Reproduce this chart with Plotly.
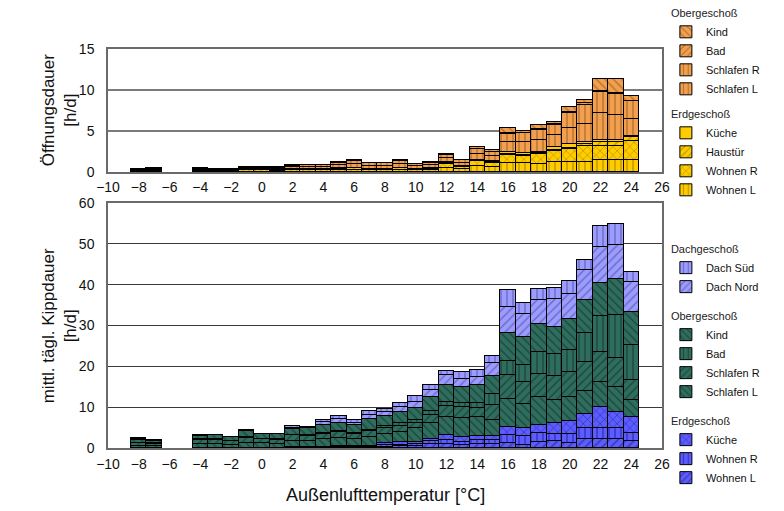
import plotly.graph_objects as go

temps = [-8, -7, -4, -3, -2, -1, 0, 1, 2, 3, 4, 5, 6, 7, 8, 9, 10, 11, 12, 13, 14, 15, 16, 17, 18, 19, 20, 21, 22, 23, 24]

# ---- Top panel: Öffnungsdauer [h/d] ----
eg_wohnen_l = [0.15, 0.1, 0.15, 0.15, 0.15, 0.2, 0.2, 0.15, 0.2, 0.2, 0.2, 0.25, 0.25, 0.2, 0.2, 0.25, 0.2, 0.25, 0.5, 0.35, 0.7, 0.6, 1.1, 1.1, 1.0, 1.2, 1.2, 1.2, 1.4, 1.4, 1.5]
eg_wohnen_r = [0.1, 0.1, 0.1, 0.1, 0.1, 0.1, 0.1, 0.1, 0.15, 0.15, 0.15, 0.15, 0.2, 0.15, 0.15, 0.2, 0.15, 0.15, 0.5, 0.3, 0.6, 0.5, 1.0, 0.9, 1.2, 1.4, 1.6, 2.0, 1.8, 1.8, 2.3]
eg_haustuer = [0, 0.05, 0.05, 0, 0, 0.05, 0.05, 0, 0, 0, 0, 0, 0, 0, 0, 0, 0, 0, 0.05, 0, 0.05, 0.05, 0.1, 0.1, 0.1, 0.1, 0.1, 0.15, 0.4, 0.4, 0.4]
eg_kueche = [0, 0.05, 0.05, 0, 0, 0.05, 0.05, 0.05, 0.05, 0.05, 0.05, 0.05, 0.05, 0.05, 0.05, 0.05, 0.05, 0.05, 0.15, 0.1, 0.15, 0.15, 0.2, 0.2, 0.15, 0.35, 0.5, 0.3, 0.3, 0.3, 0.2]
og_schlafen_l = [0.05, 0.1, 0.05, 0.05, 0.05, 0.1, 0.1, 0.15, 0.2, 0.25, 0.25, 0.35, 0.45, 0.35, 0.35, 0.45, 0.3, 0.35, 0.45, 0.35, 0.7, 0.6, 1.2, 1.3, 1.4, 1.4, 2.0, 2.2, 3.3, 3.0, 2.0]
og_schlafen_r = [0, 0.05, 0.05, 0.05, 0.05, 0.1, 0.1, 0.15, 0.15, 0.2, 0.2, 0.3, 0.4, 0.3, 0.3, 0.4, 0.25, 0.3, 0.4, 0.3, 0.6, 0.5, 1.0, 1.1, 1.3, 1.3, 1.8, 2.3, 2.5, 2.6, 2.2]
og_bad = [0, 0, 0, 0, 0, 0, 0, 0, 0, 0, 0, 0, 0, 0, 0, 0, 0, 0, 0.05, 0, 0.05, 0.05, 0.1, 0.05, 0.1, 0.1, 0.15, 0.2, 0.2, 0.1, 0.1]
og_kind = [0, 0, 0, 0, 0, 0, 0, 0, 0.05, 0.05, 0.05, 0.1, 0.15, 0.05, 0.05, 0.15, 0.05, 0.1, 0.1, 0.1, 0.15, 0.25, 0.6, 0.25, 0.45, 0.3, 0.6, 0.45, 1.4, 1.7, 0.6]

# ---- Bottom panel: mittl. tägl. Kippdauer [h/d] ----
k_eg_wohnen_l = [0, 0, 0.1, 0, 0, 0, 0, 0, 0.2, 0.1, 0.2, 0.2, 0.2, 0.2, 0.3, 0.4, 0.4, 0.9, 0.9, 0.7, 0.9, 0.9, 1.1, 0.8, 1.4, 1.6, 1.1, 2.1, 2.1, 2.1, 1.7]
k_eg_wohnen_r = [0, 0, 0, 0, 0, 0, 0, 0, 0.1, 0.1, 0.1, 0.2, 0.2, 0.2, 0.4, 0.4, 0.5, 0.9, 1.0, 0.8, 1.0, 1.0, 2.0, 2.1, 2.3, 1.8, 2.4, 2.7, 2.8, 2.8, 2.0]
k_eg_kueche = [0, 0, 0, 0, 0, 0, 0, 0, 0, 0, 0, 0, 0, 0, 0.6, 0.7, 0.6, 0.3, 1.2, 1.2, 1.1, 1.1, 2.0, 2.0, 1.9, 2.6, 3.1, 3.5, 5.1, 3.8, 3.9]
k_og_schlafen_l = [0.6, 0.5, 0.9, 1.0, 0.8, 1.2, 1.1, 1.0, 1.5, 1.6, 1.8, 2.0, 1.8, 2.2, 2.2, 2.4, 3.3, 3.9, 4.5, 4.7, 4.6, 3.8, 7.0, 5.8, 6.8, 5.8, 5.9, 5.7, 6.2, 6.3, 4.1]
k_og_schlafen_r = [0.5, 0.4, 0.9, 0.9, 0.8, 1.2, 1.0, 1.0, 1.3, 1.2, 1.4, 1.5, 1.2, 1.5, 1.5, 1.5, 1.2, 2.0, 2.6, 2.6, 2.2, 3.8, 5.7, 5.5, 5.7, 5.8, 6.0, 7.1, 7.3, 7.1, 4.9]
k_og_bad = [0.2, 0.2, 0.2, 0.2, 0.2, 0.2, 0.2, 0.2, 0.2, 0.2, 0.2, 0.3, 0.2, 0.4, 0.4, 0.6, 0.8, 1.1, 1.1, 1.1, 1.1, 2.7, 3.5, 4.1, 5.4, 5.3, 5.4, 7.1, 8.8, 10.4, 8.6]
k_og_kind = [0.6, 0.5, 0.9, 1.0, 0.9, 1.6, 1.1, 1.2, 1.4, 1.6, 2.0, 2.0, 2.0, 2.5, 2.4, 2.8, 3.0, 3.4, 4.1, 3.9, 4.5, 4.3, 6.9, 6.9, 6.8, 6.8, 7.6, 8.0, 8.1, 9.0, 8.1]
k_dach_nord = [0.2, 0.2, 0.1, 0.1, 0, 0.1, 0.1, 0, 0.3, 0.1, 0.6, 0.8, 0.6, 1.0, 1.0, 1.2, 1.5, 1.8, 2.4, 2.0, 2.0, 3.3, 6.4, 5.7, 5.9, 6.7, 6.3, 7.4, 8.9, 8.3, 7.4]
k_dach_sued = [0.4, 0.2, 0.2, 0, 0, 0, 0, 0.1, 0.3, 0.2, 0.5, 0.8, 0.6, 1.0, 0.8, 1.0, 1.4, 1.1, 1.0, 1.5, 1.8, 1.6, 4.1, 2.6, 2.8, 2.9, 3.1, 2.4, 5.0, 5.0, 2.5]

ORANGE, ORANGE_FG = "#F2A04F", "rgba(90,45,0,0.75)"
YELLOW, YELLOW_FG = "#FFCC00", "rgba(90,70,0,0.75)"
TEAL, TEAL_FG = "#2F6E5E", "rgba(0,20,15,0.8)"
BLUE, BLUE_FG = "#5C5CFF", "rgba(0,0,90,0.8)"
LBLUE, LBLUE_FG = "#9C9CFF", "rgba(30,30,110,0.75)"

FONT = "Liberation Sans, Arial, sans-serif"

fig = go.Figure()


def add(y, name, color, fg, shape, axis, legend, group, gtitle, rank):
    xa, ya = axis
    pat = dict(shape=shape, bgcolor=color, fgcolor=fg, size=6, solidity=0.25)
    fig.add_trace(go.Bar(
        x=temps, y=y, name=name, width=1.0,
        marker=dict(color=color, line=dict(color="black", width=1), pattern=pat),
        xaxis=xa, yaxis=ya, legend=legend, legendgroup=group,
        legendgrouptitle=dict(text=gtitle, font=dict(size=11, family=FONT, color="#222")),
        legendrank=rank, hoverinfo="x+y+name",
    ))


top = ("x", "y")
bot = ("x2", "y2")
# top panel, stacked bottom->top
add(eg_wohnen_l, "Wohnen L", YELLOW, YELLOW_FG, "|", top, "legend", "tEG", "Erdgeschoß", 8)
add(eg_wohnen_r, "Wohnen R", YELLOW, YELLOW_FG, "x", top, "legend", "tEG", "Erdgeschoß", 7)
add(eg_haustuer, "Haustür", YELLOW, YELLOW_FG, "/", top, "legend", "tEG", "Erdgeschoß", 6)
add(eg_kueche, "Küche", YELLOW, YELLOW_FG, "", top, "legend", "tEG", "Erdgeschoß", 5)
add(og_schlafen_l, "Schlafen L", ORANGE, ORANGE_FG, "|", top, "legend", "tOG", "Obergeschoß", 4)
add(og_schlafen_r, "Schlafen R", ORANGE, ORANGE_FG, "|", top, "legend", "tOG", "Obergeschoß", 3)
add(og_bad, "Bad", ORANGE, ORANGE_FG, "/", top, "legend", "tOG", "Obergeschoß", 2)
add(og_kind, "Kind", ORANGE, ORANGE_FG, "\\", top, "legend", "tOG", "Obergeschoß", 1)

# bottom panel
add(k_eg_wohnen_l, "Wohnen L", BLUE, BLUE_FG, "/", bot, "legend2", "bEG", "Erdgeschoß", 9)
add(k_eg_wohnen_r, "Wohnen R", BLUE, BLUE_FG, "|", bot, "legend2", "bEG", "Erdgeschoß", 8)
add(k_eg_kueche, "Küche", BLUE, BLUE_FG, "x", bot, "legend2", "bEG", "Erdgeschoß", 7)
add(k_og_schlafen_l, "Schlafen L", TEAL, TEAL_FG, "\\", bot, "legend2", "bOG", "Obergeschoß", 6)
add(k_og_schlafen_r, "Schlafen R", TEAL, TEAL_FG, "/", bot, "legend2", "bOG", "Obergeschoß", 5)
add(k_og_bad, "Bad", TEAL, TEAL_FG, "|", bot, "legend2", "bOG", "Obergeschoß", 4)
add(k_og_kind, "Kind", TEAL, TEAL_FG, "\\", bot, "legend2", "bOG", "Obergeschoß", 3)
add(k_dach_nord, "Dach Nord", LBLUE, LBLUE_FG, "/", bot, "legend2", "bDG", "Dachgeschoß", 2)
add(k_dach_sued, "Dach Süd", LBLUE, LBLUE_FG, "|", bot, "legend2", "bDG", "Dachgeschoß", 1)

axis_common = dict(
    showline=True, linecolor="#6a6a6a", linewidth=1.5, mirror=True,
    ticks="", tickfont=dict(size=14, family=FONT, color="#111"), zeroline=False,
)

# the page body adds an 8px margin, so the figure is 8px smaller than the window
fig.update_layout(
    width=776, height=503,
    margin=dict(l=100, r=122, t=41, b=63, autoexpand=False),
    paper_bgcolor="white", plot_bgcolor="white",
    barmode="stack", bargap=0,
    font=dict(family=FONT, size=11, color="#111"),
    xaxis=dict(domain=[0, 1], range=[-10, 26], dtick=2, tick0=-10, showgrid=False, anchor="y",
               ticklabelstandoff=2, **axis_common),
    yaxis=dict(domain=[0.692, 1], range=[0, 15], dtick=5, showgrid=True, gridcolor="#7a7a7a", gridwidth=1.5,
               anchor="x", ticklabelstandoff=9, **axis_common),
    xaxis2=dict(domain=[0, 1], range=[-10, 26], dtick=2, tick0=-10, showgrid=False, anchor="y2",
                ticklabelstandoff=2, **axis_common),
    yaxis2=dict(domain=[0, 0.614], range=[0, 60], dtick=10, showgrid=True, gridcolor="#3a3a3a", gridwidth=1,
                anchor="x2", ticklabelstandoff=9, **axis_common),
    legend=dict(x=1.007, y=1.127, xanchor="left", yanchor="top", traceorder="grouped",
                tracegroupgap=6, font=dict(size=11, family=FONT, color="#111"),
                itemwidth=30, bgcolor="rgba(0,0,0,0)"),
    legend2=dict(x=1.007, y=0.536, xanchor="left", yanchor="top", traceorder="grouped",
                 tracegroupgap=10, font=dict(size=11, family=FONT, color="#111"),
                 itemwidth=30, bgcolor="rgba(0,0,0,0)"),
    annotations=[
        dict(text="Öffnungsdauer<br>[h/d]", xref="paper", yref="paper", x=-0.087, y=0.846,
             xanchor="center", yanchor="middle", textangle=-90, showarrow=False,
             font=dict(size=17, family=FONT, color="#111")),
        dict(text="mittl. tägl. Kippdauer<br>[h/d]", xref="paper", yref="paper", x=-0.087, y=0.307,
             xanchor="center", yanchor="middle", textangle=-90, showarrow=False,
             font=dict(size=17, family=FONT, color="#111")),
        dict(text="Außenlufttemperatur [°C]", xref="paper", yref="paper", x=0.5, y=-0.118,
             xanchor="center", yanchor="middle", showarrow=False,
             font=dict(size=18, family=FONT, color="#111")),
    ],
)

fig.write_html("out.html")
